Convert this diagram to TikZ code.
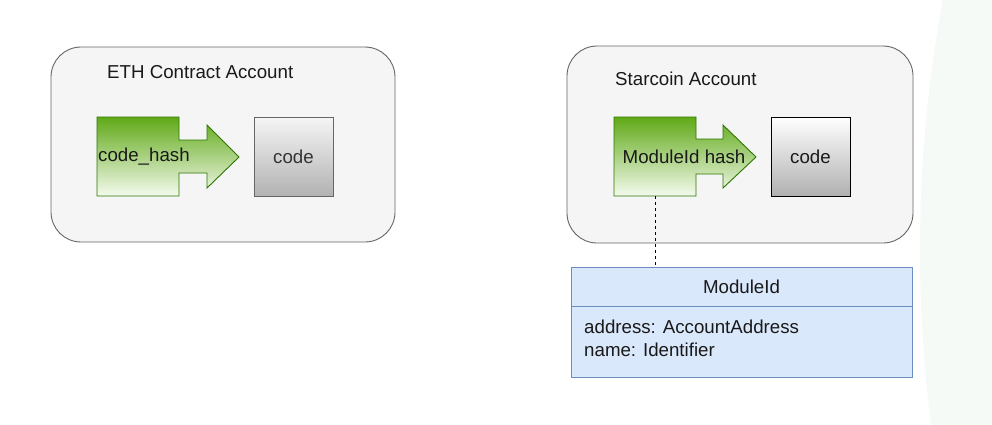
\documentclass[tikz,border=0pt]{standalone}
\usepackage{fontspec}
\setmainfont{Liberation Sans}
\definecolor{contfill}{HTML}{F5F5F5}
\definecolor{contdraw}{HTML}{666666}
\definecolor{gtop}{HTML}{60A917}
\definecolor{gbot}{HTML}{F4FAEE}
\definecolor{gdraw}{HTML}{2D7600}
\definecolor{codetxt}{HTML}{333333}
\definecolor{clsfill}{HTML}{DAE8FC}
\definecolor{clsdraw}{HTML}{6C8EBF}
\definecolor{wmark}{HTML}{F6FAF7}
\begin{document}
\begin{tikzpicture}[x=1pt,y=-1pt,
  txt/.style={font=\fontsize{18.7}{23}\selectfont, text=black!90},
  container/.style={draw=contdraw, fill=contfill, rounded corners=30pt, line width=0.9pt, inner sep=0pt},
  greenarrow/.style={draw=gdraw, line width=0.9pt, top color=gtop, bottom color=gbot},
  codeboxL/.style={draw=contdraw, line width=0.9pt, top color=contfill, bottom color={rgb,255:red,178;green,178;blue,178}, inner sep=0pt, minimum width=79pt, minimum height=79pt, txt, text=codetxt},
  codeboxR/.style={draw=black, line width=0.9pt, top color=white, bottom color={rgb,255:red,176;green,176;blue,176}, inner sep=0pt, minimum width=79pt, minimum height=79pt, txt},
  clshead/.style={draw=clsdraw, fill=clsfill, line width=0.9pt, inner sep=0pt, minimum width=341pt, minimum height=39pt, txt},
  clsbody/.style={draw=clsdraw, fill=clsfill, line width=0.9pt, inner sep=0pt, minimum width=341pt, minimum height=71pt},
  body/.style={inner sep=0pt, minimum width=82pt, minimum height=79pt}
]
\useasboundingbox (0,0) rectangle (992,424);
\fill[white] (0,0) rectangle (992,424);
% faint watermark
\begin{scope}
\clip (0,0) rectangle (992,424);
\fill[wmark] (2290,250) circle (1370);
\end{scope}

% left container
\node[container, minimum width=344pt, minimum height=195pt] (contL) at (223,144.5) {};
\node[txt, anchor=west, inner sep=0pt] (titleL) at (107,72) {ETH Contract Account};
\path[greenarrow] (97,117) -- (179,117) -- (179,140) -- (207,140) -- (207,125) -- (239,157) -- (207,188) -- (207,173) -- (179,173) -- (179,196) -- (97,196) -- cycle;
\node[body] (bodyL) at (138,156.5) {};
\node[txt, anchor=west, inner sep=0pt] (hashL) at (98,157) {code\_hash};
\node[codeboxL] (codeL) at (293.5,156.5) {code};

% right container
\node[container, minimum width=346pt, minimum height=197pt] (contR) at (740,144.5) {};
\node[txt, anchor=west, inner sep=0pt] (titleR) at (615,79) {Starcoin Account};
\path[greenarrow] (614,117) -- (696,117) -- (696,139) -- (723,139) -- (723,125) -- (756,157) -- (723,188) -- (723,174) -- (696,174) -- (696,196) -- (614,196) -- cycle;
\node[body] (bodyR) at (655,156.5) {};
\node[txt, inner sep=0pt] (hashR) at (684,157) {ModuleId hash};
\node[codeboxR] (codeR) at (810.5,156.5) {code};

% class box
\node[clshead] (clsh) at (741.5,286.5) {ModuleId};
\node[clsbody, anchor=north] (clsb) at (clsh.south) {};
\node[txt, anchor=north west, align=left, inner sep=0pt] (attrs) at (584,319.5) {address: AccountAddress\\name: Identifier};

% dashed connector
\draw[dashed, line width=0.9pt, dash pattern=on 3pt off 3pt] (bodyR.south) -- (bodyR.south |- clsh.north);
\end{tikzpicture}
\end{document}
